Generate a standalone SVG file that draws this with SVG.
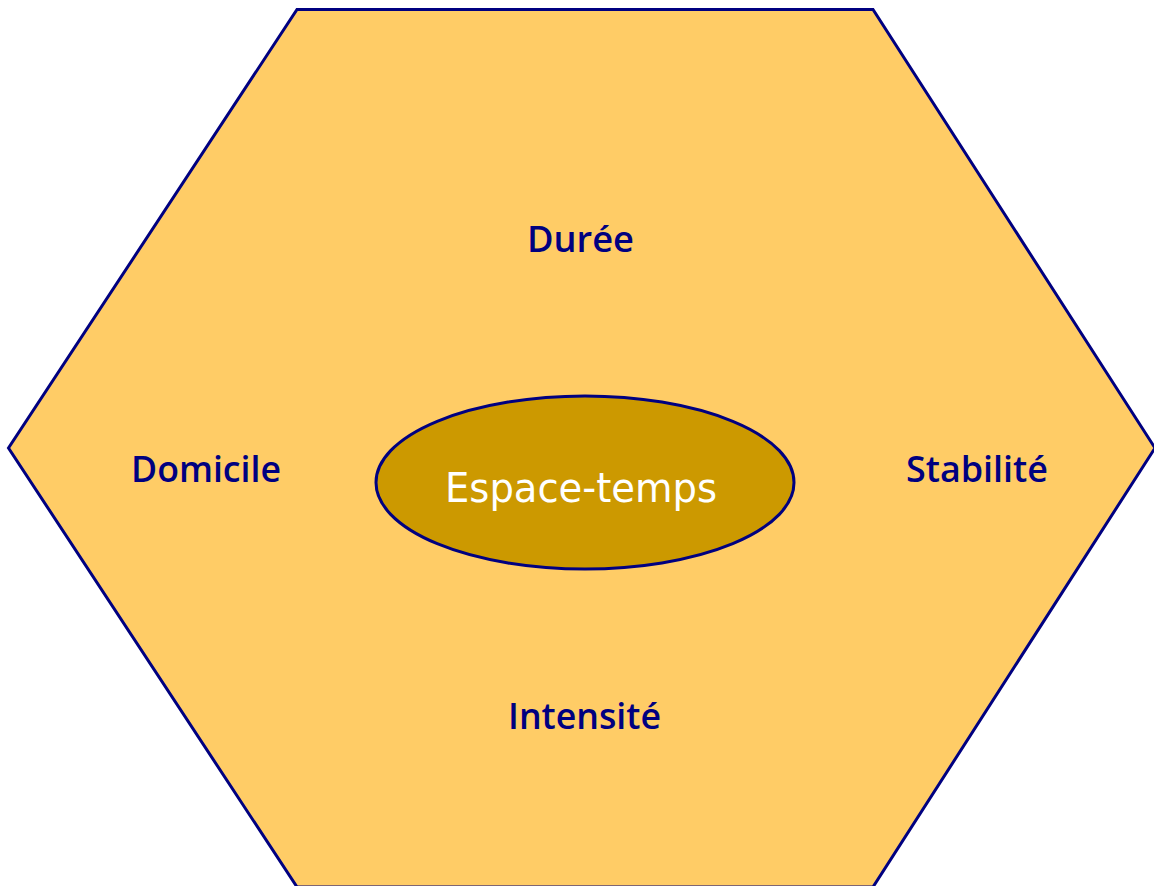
<svg xmlns="http://www.w3.org/2000/svg" width="1154" height="886" viewBox="0 0 1154 886">
  <style>
    .hex { fill: #FFCC66; stroke: #000080; stroke-width: 3; }
    .core { fill: #CC9900; stroke: #000080; stroke-width: 3; }
    .lbl { font-family: "Open Sans", "DejaVu Sans", sans-serif; font-weight: 600; font-size: 36px; fill: #000080; }
    .core-lbl { font-family: "DejaVu Sans", Verdana, sans-serif; font-size: 40px; fill: #FFFFFF; }
  </style>
  <rect width="1154" height="886" fill="#FFFFFF"/>
  <g id="hexagon">
    <polygon class="hex" points="297,9.5 873,9.5 1155,448 873,887 297,887 8.5,448"/>
  </g>
  <g id="node-duree">
    <text class="lbl" x="527" y="252" textLength="107" lengthAdjust="spacingAndGlyphs">Durée</text>
  </g>
  <g id="node-domicile">
    <text class="lbl" x="131" y="482" textLength="150" lengthAdjust="spacingAndGlyphs">Domicile</text>
  </g>
  <g id="node-stabilite">
    <text class="lbl" x="906" y="482" textLength="142" lengthAdjust="spacingAndGlyphs">Stabilité</text>
  </g>
  <g id="node-intensite">
    <text class="lbl" x="508" y="729" textLength="153" lengthAdjust="spacingAndGlyphs">Intensité</text>
  </g>
  <g id="node-espace-temps">
    <ellipse class="core" cx="585" cy="482.5" rx="209" ry="86.5"/>
    <text class="core-lbl" x="445" y="502" textLength="272" lengthAdjust="spacingAndGlyphs">Espace-temps</text>
  </g>
  <g id="connectors"/>
</svg>
